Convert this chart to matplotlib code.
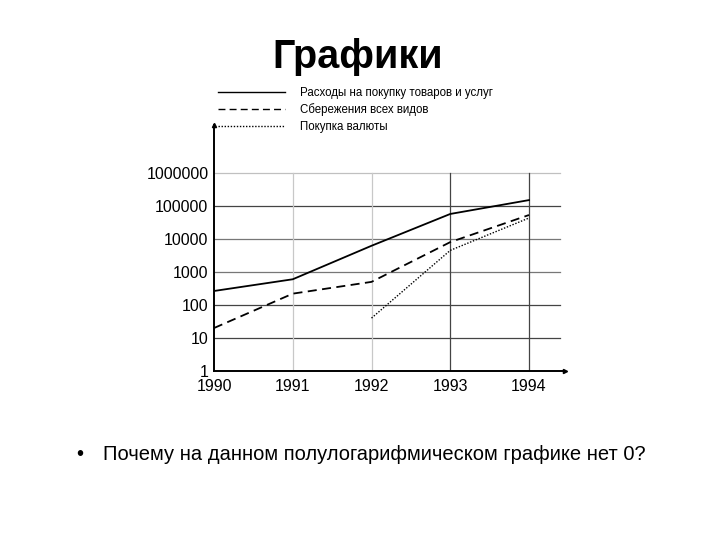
import matplotlib
matplotlib.use("Agg")
import matplotlib.pyplot as plt
from matplotlib.lines import Line2D

plt.rcParams['font.family'] = ['Liberation Sans', 'DejaVu Sans']

years = [1990, 1991, 1992, 1993, 1994]
spending = [265, 600, 6200, 57000, 150000]
savings = [20, 220, 500, 8000, 53000]
currency_years = [1992, 1993, 1994]
currency = [40, 4500, 43000]
yticks = [1, 10, 100, 1000, 10000, 100000, 1000000]
legend_labels = ["Расходы на покупку товаров и услуг", "Сбережения всех видов", "Покупка валюты"]

W, H = 720, 540
fig = plt.figure(figsize=(7.2, 5.4), dpi=100)
# axes box in pixels: left 214, right 565, bottom 371, top 125
ax = fig.add_axes([214 / W, 1 - 371 / H, (565 - 214) / W, (371 - 125) / H])
ax.set_yscale('log')
ax.set_ylim(1, 10 ** 7.45)
ax.set_xlim(1990, 1990 + (565 - 214) / 78.75)

# grid
grid_col = {10: '#444444', 100: '#444444', 1000: '#777777', 10000: '#777777',
            100000: '#444444', 1000000: '#c0c0c0'}
for v in yticks[1:]:
    ax.axhline(v, xmin=0, xmax=(560 - 214) / (565 - 214), color=grid_col[v], lw=0.9, zorder=1)
ymax_frac = 6 / 7.45
for yr in years[1:]:
    c = '#c8c8c8' if yr in (1991, 1992) else '#444444'
    ax.axvline(yr, ymin=0, ymax=ymax_frac, color=c, lw=0.9, zorder=1)

ax.plot(years, spending, color='black', lw=1.3, ls='-', zorder=3)
ax.plot(years, savings, color='black', lw=1.3, ls=(0, (5, 3)), zorder=3)
ax.plot(currency_years, currency, color='black', lw=1.0, ls=(0, (1, 1.2)), zorder=3)

for s in ['top', 'right']:
    ax.spines[s].set_visible(False)
for s in ['left', 'bottom']:
    ax.spines[s].set_linewidth(1.4)
ax.plot(1, 0, '>', color='black', ms=3, transform=ax.transAxes, clip_on=False)
ax.plot(0, 1, '^', color='black', ms=3, transform=ax.transAxes, clip_on=False)

ax.set_yticks(yticks)
ax.set_yticklabels([str(v) for v in yticks], fontsize=11.5)
ax.minorticks_off()
ax.set_xticks(years)
ax.set_xticklabels([str(y) for y in years], fontsize=11.5)
ax.tick_params(axis='y', length=0, pad=4)
ax.tick_params(axis='x', length=0, pad=6)

# legend drawn at top
styles = ['-', (0, (5, 3)), (0, (1, 1.2))]
for i, (lab, st) in enumerate(zip(legend_labels, styles)):
    ypx = 92 + i * 17
    fig.add_artist(Line2D([218 / W, 285 / W], [1 - ypx / H, 1 - ypx / H], color='black',
                          lw=1.0, ls=st))
    fig.text(300 / W, 1 - (ypx + 1) / H, lab, fontsize=8.3, va='center', ha='left')

fig.text(358 / W, 1 - 57 / H, "Графики", fontsize=28.5, fontweight='bold', ha='center', va='center')
fig.text(76 / W, 1 - 455 / H, "•", fontsize=14.5, ha='left', va='center')
fig.text(103 / W, 1 - 455 / H, "Почему на данном полулогарифмическом графике нет 0?",
         fontsize=14.5, ha='left', va='center')

fig.savefig("out.png", dpi=100)
